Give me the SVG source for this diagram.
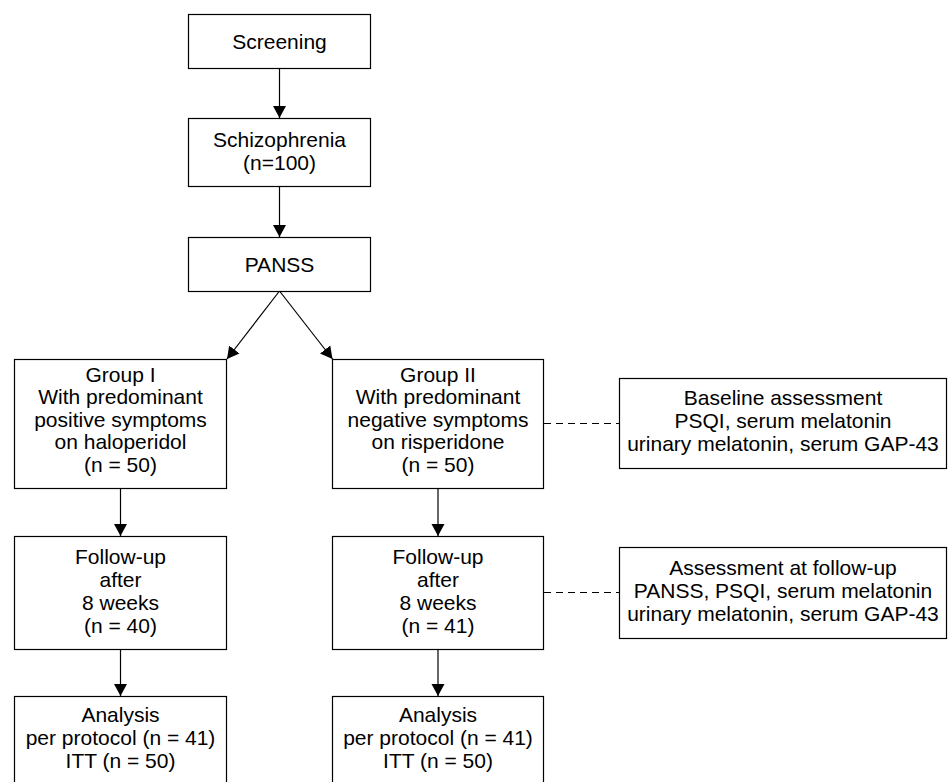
<svg xmlns="http://www.w3.org/2000/svg" width="948" height="782" viewBox="0 0 948 782">
<defs>
<style>
.box{fill:#fff;stroke:#000;stroke-width:1.2}
.t{font-family:"Liberation Sans",Arial,sans-serif;font-size:21px;fill:#000;text-anchor:middle}
.c{stroke:#000;stroke-width:1.2;fill:none}
.d{stroke:#000;stroke-width:1.2;fill:none;stroke-dasharray:7,5}
</style>
<marker id="ah" markerUnits="userSpaceOnUse" markerWidth="13" markerHeight="14" refX="12" refY="7" orient="auto">
<path d="M0,0.5 L12,7 L0,13.5 Z" fill="#000"/>
</marker>
</defs>
<rect width="948" height="782" fill="#fff"/>
<g id="connectors">
<line class="c" x1="279.5" y1="68" x2="279.5" y2="118" marker-end="url(#ah)"/>
<line class="c" x1="279.5" y1="186" x2="279.5" y2="237" marker-end="url(#ah)"/>
<line class="c" x1="279.5" y1="291" x2="227" y2="359" marker-end="url(#ah)"/>
<line class="c" x1="279.5" y1="291" x2="332.5" y2="359" marker-end="url(#ah)"/>
<line class="c" x1="120.5" y1="488" x2="120.5" y2="536" marker-end="url(#ah)"/>
<line class="c" x1="438" y1="488" x2="438" y2="536" marker-end="url(#ah)"/>
<line class="c" x1="120.5" y1="649" x2="120.5" y2="696" marker-end="url(#ah)"/>
<line class="c" x1="438" y1="649" x2="438" y2="696" marker-end="url(#ah)"/>
<line class="d" x1="544" y1="423.5" x2="619" y2="423.5"/>
<line class="d" x1="544" y1="592.5" x2="619" y2="592.5"/>
</g>
<g id="screening">
<rect class="box" x="188.5" y="14.5" width="182" height="54"/>
<text class="t" x="279.5" y="49">Screening</text>
</g>
<g id="schizophrenia">
<rect class="box" x="188.5" y="118.5" width="182" height="68"/>
<text class="t" x="279.5" y="146.5">Schizophrenia</text>
<text class="t" x="279.5" y="169.5">(n=100)</text>
</g>
<g id="panss">
<rect class="box" x="188.5" y="237.5" width="182" height="54"/>
<text class="t" x="279.5" y="271.5">PANSS</text>
</g>
<g id="group1">
<rect class="box" x="14.5" y="359.5" width="212" height="129"/>
<text class="t" x="120.5" y="381.5">Group I</text>
<text class="t" x="120.5" y="404">With predominant</text>
<text class="t" x="120.5" y="426.5">positive symptoms</text>
<text class="t" x="120.5" y="449">on haloperidol</text>
<text class="t" x="120.5" y="471.5">(n = 50)</text>
</g>
<g id="group2">
<rect class="box" x="332.5" y="359.5" width="211" height="129"/>
<text class="t" x="438" y="381.5">Group II</text>
<text class="t" x="438" y="404">With predominant</text>
<text class="t" x="438" y="426.5">negative symptoms</text>
<text class="t" x="438" y="449">on risperidone</text>
<text class="t" x="438" y="471.5">(n = 50)</text>
</g>
<g id="baseline">
<rect class="box" x="619.5" y="378.5" width="327" height="90"/>
<text class="t" x="783" y="405">Baseline assessment</text>
<text class="t" x="783" y="428">PSQI, serum melatonin</text>
<text class="t" x="783" y="451">urinary melatonin, serum GAP-43</text>
</g>
<g id="followup1">
<rect class="box" x="14.5" y="536.5" width="212" height="113"/>
<text class="t" x="120.5" y="563.5">Follow-up</text>
<text class="t" x="120.5" y="586.5">after</text>
<text class="t" x="120.5" y="609.5">8 weeks</text>
<text class="t" x="120.5" y="632.5">(n = 40)</text>
</g>
<g id="followup2">
<rect class="box" x="332.5" y="536.5" width="211" height="113"/>
<text class="t" x="438" y="563.5">Follow-up</text>
<text class="t" x="438" y="586.5">after</text>
<text class="t" x="438" y="609.5">8 weeks</text>
<text class="t" x="438" y="632.5">(n = 41)</text>
</g>
<g id="assessment-followup">
<rect class="box" x="619.5" y="547.5" width="327" height="91"/>
<text class="t" x="783" y="575">Assessment at follow-up</text>
<text class="t" x="783" y="598">PANSS, PSQI, serum melatonin</text>
<text class="t" x="783" y="621">urinary melatonin, serum GAP-43</text>
</g>
<g id="analysis1">
<rect class="box" x="14.5" y="696.5" width="212" height="100"/>
<text class="t" x="120.5" y="721.5">Analysis</text>
<text class="t" x="120.5" y="745">per protocol (n = 41)</text>
<text class="t" x="120.5" y="768">ITT (n = 50)</text>
</g>
<g id="analysis2">
<rect class="box" x="332.5" y="696.5" width="211" height="100"/>
<text class="t" x="438" y="721.5">Analysis</text>
<text class="t" x="438" y="745">per protocol (n = 41)</text>
<text class="t" x="438" y="768">ITT (n = 50)</text>
</g>
</svg>
